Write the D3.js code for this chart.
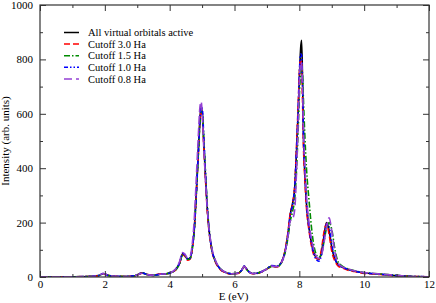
<!DOCTYPE html>
<html>
<head>
<meta charset="utf-8">
<script src="https://cdn.jsdelivr.net/npm/d3@7"></script>
<style>
  body { margin: 0; background: #fff; }
  svg { display: block; }
  text { font-family: "Liberation Serif", "DejaVu Serif", serif; fill: #000; }
</style>
</head>
<body>
<svg id="chart" width="436" height="303"></svg>
<script>
// energy grid (eV), shared by every series
var energy = [0, 0.5, 1, 1.5, 1.8, 1.95, 2.1, 2.3, 2.6, 2.9, 3.0, 3.15, 3.3, 3.5, 3.7, 3.9,
  4.1, 4.2, 4.3, 4.4, 4.47, 4.55, 4.63, 4.7, 4.76, 4.82, 4.88, 4.93, 4.97, 5.01, 5.05, 5.1,
  5.15, 5.2, 5.3, 5.4, 5.55, 5.7, 5.9, 6.1, 6.22, 6.3, 6.4, 6.55, 6.7, 6.85, 7.0, 7.15,
  7.3, 7.45, 7.55, 7.65, 7.72, 7.8, 7.86, 7.92, 7.97, 8.01, 8.04, 8.07, 8.1, 8.13, 8.17,
  8.22, 8.3, 8.4, 8.5, 8.6, 8.68, 8.76, 8.84, 8.92, 9.0, 9.1, 9.2, 9.35, 9.5, 9.7, 10,
  10.3, 10.6, 11, 11.5, 12];

var allActive = [1, 1, 1, 2, 5, 13, 6, 3, 2, 4, 8, 15, 9, 6, 10, 12,
  20, 30, 50, 85, 80, 66, 70, 110, 180, 310, 450, 570, 625, 600, 500, 380,
  270, 190, 100, 60, 30, 18, 12, 14, 25, 40, 25, 13, 14, 20, 30, 40,
  38, 55, 90, 160, 230, 276, 330, 480, 620, 760, 840, 870, 720, 500, 380,
  270, 180, 110, 75, 65, 90, 150, 200, 170, 110, 65, 45, 35, 28, 22, 15,
  12, 9, 5, 2, 1];

var cutoff30 = [1, 1, 1, 2, 4, 12, 6, 3, 2, 4, 7, 14, 9, 7, 12, 12,
  19, 28, 48, 82, 76, 62, 66, 105, 175, 300, 445, 565, 615, 590, 490, 370,
  262, 185, 98, 58, 29, 17, 11, 13, 24, 38, 24, 12, 13, 19, 29, 38,
  37, 54, 92, 165, 235, 272, 340, 500, 650, 770, 800, 780, 640, 470, 360,
  255, 170, 100, 70, 66, 100, 165, 196, 155, 95, 58, 40, 32, 25, 20, 13,
  11, 8, 4, 2, 1];

var cutoff15 = [1, 1, 1, 2, 4, 12, 6, 3, 2, 4, 8, 15, 9, 6, 10, 12,
  19, 28, 46, 80, 78, 65, 68, 105, 172, 298, 440, 560, 612, 600, 510, 395,
  285, 200, 105, 62, 32, 19, 12, 14, 24, 38, 24, 13, 14, 20, 30, 39,
  38, 52, 84, 145, 205, 245, 290, 410, 560, 690, 750, 765, 740, 640, 520,
  400, 280, 155, 90, 72, 82, 130, 180, 200, 175, 100, 55, 38, 30, 23, 16,
  13, 10, 6, 2, 1];

var cutoff10 = [1, 1, 1, 2, 5, 13, 6, 3, 2, 4, 8, 15, 9, 6, 10, 12,
  20, 30, 50, 86, 82, 67, 70, 108, 175, 300, 445, 570, 630, 615, 520, 395,
  280, 195, 102, 62, 31, 18, 12, 14, 25, 40, 25, 13, 14, 20, 30, 42,
  40, 55, 88, 158, 228, 272, 335, 490, 640, 775, 820, 815, 700, 510, 390,
  275, 180, 108, 68, 58, 80, 140, 195, 185, 120, 68, 45, 35, 28, 22, 15,
  12, 9, 5, 2, 1];

var cutoff08 = [1, 1, 1, 2, 5, 13, 6, 3, 2, 4, 8, 14, 9, 6, 10, 12,
  21, 32, 55, 90, 84, 70, 76, 125, 215, 360, 510, 620, 645, 590, 480, 370,
  270, 195, 108, 65, 33, 19, 12, 14, 25, 39, 25, 13, 14, 20, 30, 40,
  38, 54, 86, 150, 205, 215, 250, 410, 590, 740, 790, 785, 700, 530, 410,
  300, 200, 125, 82, 68, 78, 125, 185, 218, 170, 90, 50, 36, 29, 23, 16,
  13, 10, 6, 2, 1];

var seriesNames = ["All virtual orbitals active", "Cutoff 3.0 Ha", "Cutoff 1.5 Ha",
  "Cutoff 1.0 Ha", "Cutoff 0.8 Ha"];
var seriesValues = [allActive, cutoff30, cutoff15, cutoff10, cutoff08];
var seriesColors = ["#000000", "#ff0000", "#008b00", "#0000ff", "#9440d3"];
var seriesDashes = [null, "6,3", "6,2,1.5,2", "4,2,1.5,2,1.5,2", "8,4"];

var xTicks = [0, 2, 4, 6, 8, 10, 12];
var yTicks = [0, 200, 400, 600, 800, 1000];

var svg = d3.select('#chart');
var margin = { left: 40, right: 7, top: 5, bottom: 26 };
var width = 436 - margin.left - margin.right,
	height = 303 - margin.top - margin.bottom;

var x = d3.scaleLinear().domain([0, 12]).range([margin.left, margin.left + width]);
var y = d3.scaleLinear().domain([0, 1000]).range([margin.top + height, margin.top]);

var g = svg.append('g');

// curves, clipped to the frame
svg.append('clipPath').attr('id', 'clip')
	.append('rect')
	.attr('x', margin.left).attr('y', margin.top)
	.attr('width', width).attr('height', height);

var line = d3.line()
	.x(function(d, i) { return x(energy[i]); })
	.y(function(d) { return y(d); })
	.curve(d3.curveMonotoneX);

g.append('g').attr('clip-path', 'url(#clip)')
	.selectAll('path.curve')
	.data(seriesValues)
	.enter().append('path')
	.attr('class', 'curve')
	.attr('d', line)
	.attr('fill', 'none')
	.attr('stroke', function(d, i) { return seriesColors[i]; })
	.attr('stroke-width', 1.6)
	.attr('stroke-dasharray', function(d, i) { return seriesDashes[i]; });

// axes: ticks point inward on all four sides (grace style)
var tickColor = '#333';
var xMinor = d3.range(1, 12, 2), yMinor = d3.range(100, 1000, 200);
var fmt = d3.format('d');

var axisBottom = d3.axisBottom(x).tickValues(xTicks).tickSizeInner(-6).tickSizeOuter(0).tickPadding(3).tickFormat(fmt);
var axisLeft = d3.axisLeft(y).tickValues(yTicks).tickSizeInner(-6).tickSizeOuter(0).tickPadding(7).tickFormat(fmt);

function styleAxis(sel) {
	sel.select('.domain').remove();
	sel.selectAll('line').attr('stroke', tickColor);
	sel.attr('font-family', null).attr('font-size', null);
	sel.selectAll('text')
		.style('font-family', '"Liberation Serif", serif')
		.style('font-size', '11px')
		.attr('fill', '#000');
}

g.append('g').attr('transform', 'translate(0,' + y(0) + ')').call(axisBottom).call(styleAxis);
g.append('g').attr('transform', 'translate(' + x(0) + ',0)').call(axisLeft).call(styleAxis);
g.append('g').attr('transform', 'translate(0,' + y(1000) + ')')
	.call(d3.axisTop(x).tickValues(xTicks).tickSizeInner(-6).tickSizeOuter(0).tickFormat(''))
	.call(styleAxis);
g.append('g').attr('transform', 'translate(' + x(12) + ',0)')
	.call(d3.axisRight(y).tickValues(yTicks).tickSizeInner(-6).tickSizeOuter(0).tickFormat(''))
	.call(styleAxis);

// minor ticks
[[d3.axisBottom, y(0)], [d3.axisTop, y(1000)]].forEach(function(a) {
	g.append('g').attr('transform', 'translate(0,' + a[1] + ')')
		.call(a[0](x).tickValues(xMinor).tickSizeInner(-3).tickSizeOuter(0).tickFormat(''))
		.call(styleAxis);
});
[[d3.axisLeft, x(0)], [d3.axisRight, x(12)]].forEach(function(a) {
	g.append('g').attr('transform', 'translate(' + a[1] + ',0)')
		.call(a[0](y).tickValues(yMinor).tickSizeInner(-3).tickSizeOuter(0).tickFormat(''))
		.call(styleAxis);
});

// frame
g.append('rect')
	.attr('x', margin.left).attr('y', margin.top)
	.attr('width', width).attr('height', height)
	.attr('fill', 'none')
	.attr('stroke', tickColor)
	.attr('stroke-width', 1.2);

// axis titles
g.append('text')
	.attr('x', x(6) - 1).attr('y', 300)
	.attr('text-anchor', 'middle')
	.style('font-size', '11px')
	.text('E (eV)');

g.append('text')
	.attr('transform', 'translate(9,' + y(500) + ') rotate(-90)')
	.attr('text-anchor', 'middle')
	.style('font-size', '11px')
	.text('Intensity (arb. units)');

// legend
var legend = g.append('g').selectAll('g.item')
	.data(seriesNames)
	.enter().append('g')
	.attr('class', 'item')
	.attr('transform', function(d, i) { return 'translate(64,' + (32.5 + i * 11.6) + ')'; });

legend.append('line')
	.attr('x1', 0).attr('x2', 15)
	.attr('stroke', function(d, i) { return seriesColors[i]; })
	.attr('stroke-width', 1.5)
	.attr('stroke-dasharray', function(d, i) { return seriesDashes[i]; });

legend.append('text')
	.attr('x', 24).attr('dy', '0.35em')
	.style('font-size', '10.5px')
	.text(function(d) { return d; });
</script>
</body>
</html>
